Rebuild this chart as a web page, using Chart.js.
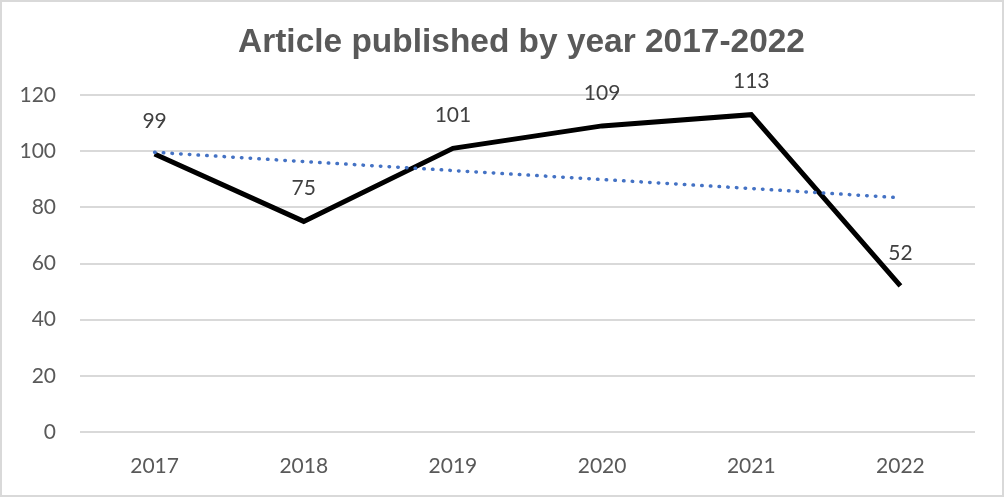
<!DOCTYPE html>
<html><head><meta charset="utf-8">
<script src="https://cdn.jsdelivr.net/npm/chart.js@4/dist/chart.umd.min.js"></script>
<style>html,body{margin:0;padding:0;background:#fff;}canvas{display:block;}</style>
</head><body>
<canvas id="c" width="1004" height="497"></canvas>
<script>
const categories = ['2017','2018','2019','2020','2021','2022'];
const articles = [99, 75, 101, 109, 113, 52];
const trendValues = [99.6, 96.3, 93.1, 89.9, 86.7, 83.4];
const yTicks = [0, 20, 40, 60, 80, 100, 120];
const titleText = 'Article published by year 2017-2022';

const FONT = 'Lato, "Liberation Sans", sans-serif';
const TITLE_FONT = '"Liberation Sans", Arial, sans-serif';

const bgBorder = {
  id: 'bgBorder',
  beforeDraw(chart) {
    const c = chart.ctx;
    c.save();
    c.fillStyle = '#fff';
    c.fillRect(0, 0, chart.width, chart.height);
    c.strokeStyle = '#d9d9d9';
    c.lineWidth = 2;
    c.strokeRect(1, 1, chart.width - 2, chart.height - 2);
    c.restore();
  }
};

const titlePlugin = {
  id: 'titlePlugin',
  afterDraw(chart) {
    const c = chart.ctx;
    c.save();
    let size = 33;
    c.font = 'bold ' + size + 'px ' + TITLE_FONT;
    const w = c.measureText(titleText).width;
    size = size * 567 / w;
    c.font = 'bold ' + size.toFixed(2) + 'px ' + TITLE_FONT;
    c.fillStyle = '#595959';
    c.textAlign = 'center';
    c.textBaseline = 'alphabetic';
    c.fillText(titleText, 521.5, 52);
    c.restore();
  }
};

const dataLabels = {
  id: 'dataLabels',
  afterDatasetsDraw(chart) {
    const c = chart.ctx;
    const meta = chart.getDatasetMeta(1);
    c.save();
    c.font = '21px ' + FONT;
    c.fillStyle = '#404040';
    c.textAlign = 'center';
    c.textBaseline = 'middle';
    meta.data.forEach((pt, i) => {
      c.fillText(String(articles[i]), pt.x, pt.y - 33);
    });
    c.restore();
  }
};

new Chart(document.getElementById('c'), {
  type: 'line',
  data: {
    labels: categories,
    datasets: [
      {
        label: 'Linear trend',
        data: trendValues,
        borderColor: '#4472C4',
        borderWidth: 3.5,
        borderDash: [0.5, 8.2],
        borderCapStyle: 'round',
        pointRadius: 0,
        tension: 0,
        order: 0
      },
      {
        label: 'Articles',
        data: articles,
        borderColor: '#000000',
        borderWidth: 5,
        borderJoinStyle: 'miter',
        pointRadius: 0,
        tension: 0,
        order: 1
      }
    ]
  },
  options: {
    responsive: false,
    animation: false,
    layout: { padding: { left: 0, right: 29, top: 95, bottom: 0 } },
    plugins: {
      legend: { display: false },
      tooltip: { enabled: false },
      title: { display: false }
    },
    scales: {
      x: {
        offset: true,
        grid: { display: false, drawTicks: false },
        border: { display: false },
        ticks: { color: '#595959', font: { family: FONT, size: 21 }, padding: 22, maxRotation: 0 },
        afterFit(s) { s.height = 65; }
      },
      y: {
        min: 0, max: 120,
        afterBuildTicks(s) { s.ticks = yTicks.map(v => ({ value: v })); },
        grid: { color: '#d9d9d9', lineWidth: 2, drawTicks: false },
        border: { display: false },
        ticks: { color: '#595959', font: { family: FONT, size: 21 }, padding: 24 },
        afterFit(s) { s.width = 80; }
      }
    }
  },
  plugins: [bgBorder, titlePlugin, dataLabels]
});
</script>
</body></html>
